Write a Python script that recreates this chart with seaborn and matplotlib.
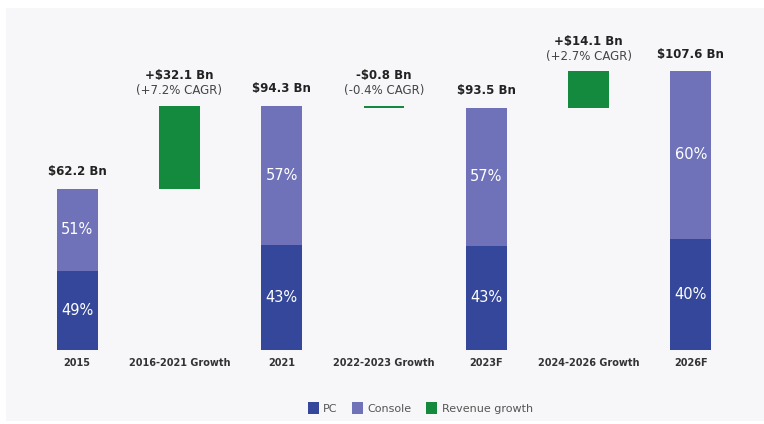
import matplotlib
matplotlib.use("Agg")
import matplotlib.pyplot as plt
from matplotlib.patches import Rectangle, Patch
import seaborn as sns
import pandas as pd

# Market totals (US$ Bn) and platform shares (%)
categories = ["2015", "2016-2021 Growth", "2021", "2022-2023 Growth",
              "2023F", "2024-2026 Growth", "2026F"]
years = ["2015", "2021", "2023F", "2026F"]
totals = [62.2, 94.3, 93.5, 107.6]
pc_share = [49, 43, 43, 40]
console_share = [51, 57, 57, 60]

growth_periods = ["2016-2021 Growth", "2022-2023 Growth", "2024-2026 Growth"]
growth = [32.1, -0.8, 14.1]
cagr = [7.2, -0.4, 2.7]

legend_labels = ["PC", "Console", "Revenue growth"]

PC_COLOR = "#34479b"
CONSOLE_COLOR = "#6f72b9"
GROWTH_COLOR = "#138a3d"
PANEL = "#f7f7fa"

sns.set_theme(style="white")
plt.rcParams["font.family"] = ["DejaVu Sans"]

fig = plt.figure(figsize=(7.64, 4.24), dpi=100, facecolor="white")
fig.patches.append(Rectangle((6 / 764, 3 / 424), 758 / 764, 413 / 424,
                             transform=fig.transFigure, facecolor=PANEL,
                             edgecolor="none", zorder=-10))

ax = fig.add_axes([26 / 764, 1 - 350 / 424, 716 / 764, 330 / 424])
ax.set_facecolor("none")

df = pd.DataFrame({
    "category": years,
    "total": totals,
    "pc": [t * s / 100 for t, s in zip(totals, pc_share)],
})

# Stacked year bars: full total in console colour, PC part drawn on top
sns.barplot(data=df, x="category", y="total", order=categories,
            color=CONSOLE_COLOR, saturation=1, width=0.4, linewidth=0, ax=ax)
sns.barplot(data=df, x="category", y="pc", order=categories,
            color=PC_COLOR, saturation=1, width=0.4, linewidth=0, ax=ax)

# Floating growth bars between consecutive totals
for i, (period, g, c) in enumerate(zip(growth_periods, growth, cagr)):
    pos = categories.index(period)
    start = totals[i]
    ax.bar(pos, abs(g), bottom=min(start, start + g), width=0.4,
           color=GROWTH_COLOR, linewidth=0)
    top = max(start, start + g)
    sign = "+" if g >= 0 else "-"
    csign = "+" if c >= 0 else ""
    ax.annotate(f"{sign}${abs(g):.1f} Bn", (pos, top), xytext=(0, 30),
                textcoords="offset pixels", ha="center", va="center",
                fontsize=8.5, fontweight="bold", color="#222222")
    ax.annotate(f"({csign}{c:.1f}% CAGR)", (pos, top), xytext=(0, 15),
                textcoords="offset pixels", ha="center", va="center",
                fontsize=8.5, color="#444444")

# Labels on the year bars
for yr, t, p, c in zip(years, totals, pc_share, console_share):
    pos = categories.index(yr)
    pc_val = t * p / 100
    ax.annotate(f"${t:.1f} Bn", (pos, t), xytext=(0, 17),
                textcoords="offset pixels", ha="center", va="center",
                fontsize=8.5, fontweight="bold", color="#222222")
    ax.text(pos, pc_val / 2, f"{p}%", ha="center", va="center",
            fontsize=10.5, color="white")
    ax.text(pos, pc_val + (t - pc_val) / 2, f"{c}%", ha="center",
            va="center", fontsize=10.5, color="white")

ax.set_xlim(-0.5, len(categories) - 0.5)
ax.set_ylim(0, 330 / 2.59)
ax.set_xlabel("")
ax.set_ylabel("")
ax.set_yticks([])
ax.set_xticks(range(len(categories)))
ax.set_xticklabels(categories, fontsize=7, fontweight="bold", color="#333333")
ax.tick_params(axis="x", length=0, pad=6)
sns.despine(ax=ax, left=True, bottom=True)

handles = [Patch(facecolor=c, edgecolor="none")
           for c in (PC_COLOR, CONSOLE_COLOR, GROWTH_COLOR)]
fig.legend(handles, legend_labels, loc="center", ncol=3,
           bbox_to_anchor=(0.55, 1 - 408 / 424), frameon=False,
           fontsize=8, labelcolor="#555555", handlelength=1.0,
           handleheight=1.3, handletextpad=0.4, columnspacing=1.3)

fig.savefig("out.png", dpi=100, facecolor="white")
